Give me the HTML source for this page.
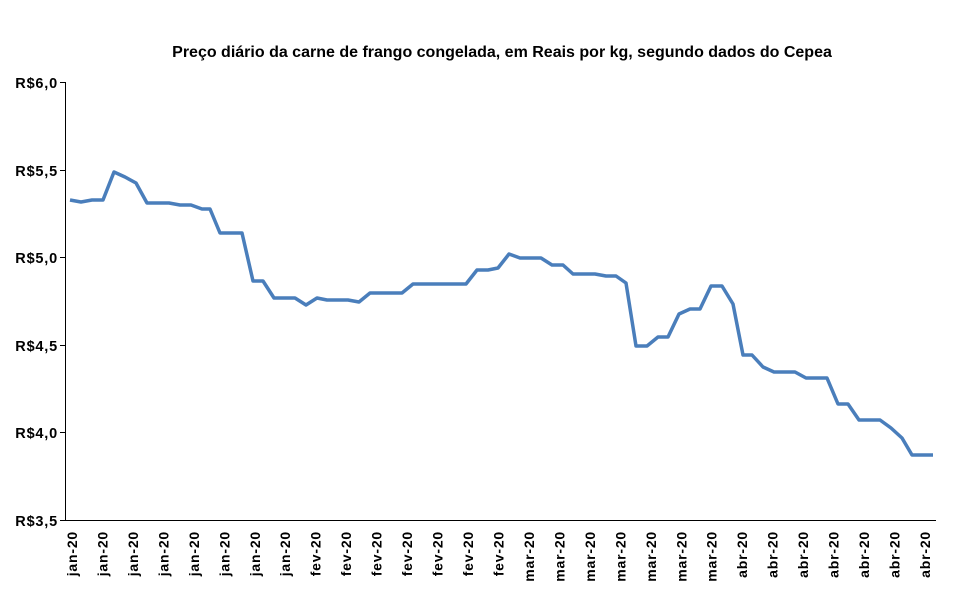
<!DOCTYPE html>
<html><head><meta charset="utf-8"><style>
body{margin:0;background:#fff;}
svg text{font-family:"Liberation Sans",sans-serif;font-weight:bold;fill:#000;}
</style></head><body>
<svg width="960" height="593" viewBox="0 0 960 593" xmlns="http://www.w3.org/2000/svg">
<text x="502" y="57" font-size="16" text-anchor="middle">Preço diário da carne de frango congelada, em Reais por kg, segundo dados do Cepea</text>
<g font-size="14.5" text-anchor="end" letter-spacing="0.8">
<text x="58" y="88">R$6,0</text>
<text x="58" y="176">R$5,5</text>
<text x="58" y="263">R$5,0</text>
<text x="58" y="351">R$4,5</text>
<text x="58" y="438">R$4,0</text>
<text x="58" y="526">R$3,5</text>
</g>
<g stroke="#000" stroke-width="1">
<line x1="65.5" y1="82" x2="65.5" y2="521"/>
<line x1="65" y1="520.5" x2="936" y2="520.5"/>
<line x1="60" y1="82.5" x2="65" y2="82.5"/>
<line x1="60" y1="170.5" x2="65" y2="170.5"/>
<line x1="60" y1="257.5" x2="65" y2="257.5"/>
<line x1="60" y1="345.5" x2="65" y2="345.5"/>
<line x1="60" y1="432.5" x2="65" y2="432.5"/>
<line x1="60" y1="520.5" x2="65" y2="520.5"/>
</g>
<polyline fill="none" stroke="#4a7ebb" stroke-width="3.5" stroke-linejoin="round" transform="translate(0,1)" points="70,199 81,201 92,199 103,199 114,171 125,176 136,182 147,202 158,202 169,202 180,204 191,204 202,208 210,208 220,232 231,232 242,232 253,280 263,280 274,297 285,297 295,297 306,304 317,297 327,299 337,299 348,299 359,301 370,292 380,292 391,292 402,292 413,283 423,283 434,283 445,283 456,283 466,283 477,269 488,269 498,267 509,253 520,257 530,257 541,257 552,264 563,264 573,273 584,273 595,273 606,275 616,275 626,282 636,345 647,345 658,336 668,336 679,313 690,308 700,308 711,285 722,285 733,303 743,354 752,354 763,366 774,371 785,371 795,371 806,377 817,377 827,377 838,403 848,403 859,419 870,419 880,419 891,427 902,437 912,454 923,454 933,454"/>
<g font-size="14" text-anchor="end" letter-spacing="0.8">
<text transform="translate(77,531) rotate(-90)">jan-20</text>
<text transform="translate(107.5,531) rotate(-90)">jan-20</text>
<text transform="translate(137.9,531) rotate(-90)">jan-20</text>
<text transform="translate(168.4,531) rotate(-90)">jan-20</text>
<text transform="translate(198.9,531) rotate(-90)">jan-20</text>
<text transform="translate(229.3,531) rotate(-90)">jan-20</text>
<text transform="translate(259.8,531) rotate(-90)">jan-20</text>
<text transform="translate(290.2,531) rotate(-90)">jan-20</text>
<text transform="translate(320.7,531) rotate(-90)">fev-20</text>
<text transform="translate(351.2,531) rotate(-90)">fev-20</text>
<text transform="translate(381.6,531) rotate(-90)">fev-20</text>
<text transform="translate(412.1,531) rotate(-90)">fev-20</text>
<text transform="translate(442.6,531) rotate(-90)">fev-20</text>
<text transform="translate(473,531) rotate(-90)">fev-20</text>
<text transform="translate(503.5,531) rotate(-90)">fev-20</text>
<text transform="translate(534,531) rotate(-90)">mar-20</text>
<text transform="translate(564.4,531) rotate(-90)">mar-20</text>
<text transform="translate(594.9,531) rotate(-90)">mar-20</text>
<text transform="translate(625.4,531) rotate(-90)">mar-20</text>
<text transform="translate(655.8,531) rotate(-90)">mar-20</text>
<text transform="translate(686.3,531) rotate(-90)">mar-20</text>
<text transform="translate(716.7,531) rotate(-90)">mar-20</text>
<text transform="translate(747.2,531) rotate(-90)">abr-20</text>
<text transform="translate(777.7,531) rotate(-90)">abr-20</text>
<text transform="translate(808.1,531) rotate(-90)">abr-20</text>
<text transform="translate(838.6,531) rotate(-90)">abr-20</text>
<text transform="translate(869.1,531) rotate(-90)">abr-20</text>
<text transform="translate(899.5,531) rotate(-90)">abr-20</text>
<text transform="translate(930,531) rotate(-90)">abr-20</text>
</g>
</svg>
</body></html>
